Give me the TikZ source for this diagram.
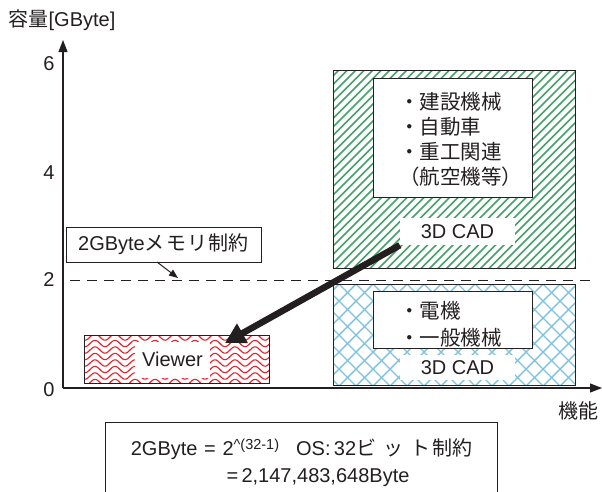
\documentclass[tikz,border=0pt]{standalone}
\usepackage{fontspec}
\setmainfont{Liberation Sans}
\newfontfamily\jp{Noto Sans CJK JP}
\usetikzlibrary{arrows.meta}
\definecolor{ink}{RGB}{35,31,32}
\definecolor{hgreen}{RGB}{70,160,105}
\definecolor{hblue}{RGB}{125,195,225}
\definecolor{hred}{RGB}{232,30,40}
\begin{document}
\begin{tikzpicture}[x=1pt,y=-1pt,
  every node/.style={font=\fontsize{20}{25}\selectfont, text=ink, inner sep=0pt},
  axis/.style={draw=ink, line width=1.1pt, -{Triangle[length=12pt,width=9pt]}},
  framebox/.style={draw=ink, line width=1pt, fill=white},
  outerbox/.style={draw=ink, line width=1pt},
  whitelabel/.style={fill=white},
  ticklabel/.style={anchor=center}]
\useasboundingbox (0,0) rectangle (602,491);

% axes
\coordinate (O) at (63,388);
\coordinate (ytop) at (63,40);
\coordinate (xend) at (602,388);
\draw[axis] (O) -- (ytop);
\draw[axis] (O) -- (xend);
\node (ylab) at (62,20) {{\jp 容量}[GByte]};
\node (xlab) at (578,411) {\jp 機能};
\node[ticklabel] (t6) at (49,64) {6};
\node[ticklabel] (t4) at (49,173) {4};
\node[ticklabel] (t2) at (49,280) {2};
\node[ticklabel] (t0) at (49,390) {0};

% patterns
\begin{scope}
  \clip (333,70) rectangle (575,268);
  \foreach \x in {120,128.5,...,580} \draw[hgreen, line width=1.5pt] (\x,272) -- (\x+210,62);
\end{scope}
\begin{scope}
  \clip (333,284) rectangle (575,385);
  \foreach \x in {220,237,...,590} {
    \draw[hblue, line width=1.4pt] (\x,386) -- (\x+102,284);
    \draw[hblue, line width=1.4pt] (\x,284) -- (\x+102,386);
  }
\end{scope}
\begin{scope}
  \clip (84,335) rectangle (269,383);
  \foreach \y in {337,343.5,...,386} \draw[hred, line width=1.1pt]
    plot[domain=80:275, samples=120, smooth] (\x, {\y + 3.2*sin(\x/20*360)});
\end{scope}

% green box
\node[outerbox, minimum width=242, minimum height=198] (gbox) at (454,169) {};
\node[framebox, minimum width=159, minimum height=119] (glist) at (452.5,137.5) {};
\node[anchor=west, align=left, font=\jp\fontsize{20.5}{25}\selectfont] (gtext) at (399,139.5)
  {・建設機械\\・自動車\\・重工関連\\（航空機等）};
\node[whitelabel, minimum width=115, minimum height=27] (cad1) at (457.5,231.5) {3D CAD};

% blue box
\node[outerbox, minimum width=242, minimum height=101] (bbox) at (454,334.5) {};
\node[framebox, minimum width=159, minimum height=57] (blist) at (452.5,319.5) {};
\node[anchor=west, align=left, font=\jp\fontsize{20.5}{27}\selectfont] (btext) at (399,324)
  {・電機\\・一般機械};
\node[whitelabel, minimum width=115, minimum height=25] (cad2) at (457.5,367.5) {3D CAD};

% red box
\node[outerbox, minimum width=185, minimum height=48] (rbox) at (176.5,359) {};
\node[whitelabel, minimum width=75, minimum height=36] (viewer) at (172.5,359.5) {Viewer};

% 2GB limit
\coordinate (dl) at (70,280);
\coordinate (dr) at (590,280);
\draw[ink, line width=1pt, dash pattern=on 10pt off 7pt] (dl) -- (dr);
\node[framebox, minimum width=195, minimum height=35] (limit) at (163.5,244.5)
  {2GByte{\jp メ\hspace{1.5pt}モ\hspace{1.5pt}リ\hspace{1pt}制約}};
\coordinate (limtip) at (178,278);
\coordinate (limstart) at (157,262);
\draw[ink, line width=1pt, -{Triangle[length=9pt,width=7pt]}] (limstart) -- (limtip);

% thick arrow
\coordinate (arrtip) at (225,343);
\draw[ink, line width=6.5pt, -{Triangle[length=20pt,width=21pt]}] (cad1.south west) -- (arrtip);

% bottom box
\coordinate (bbl) at (105,500);
\coordinate (bbr) at (497,500);
\draw[ink, line width=1pt] (bbl) -- (105,422) -- (497,422) -- (bbr);
\node (eq1) at (301.5,449) {2GByte\,\,=\,\,2\raisebox{0.6ex}{\fontsize{14.5}{14.5}\selectfont\char94(32-1)}\hspace{17pt}OS:\,32{\jp ビ\hspace{7pt}ッ\hspace{7pt}ト\hspace{2pt}制約}};
\node (eq2) at (318,478) {=\,2,147,483,648Byte};
\end{tikzpicture}
\end{document}
